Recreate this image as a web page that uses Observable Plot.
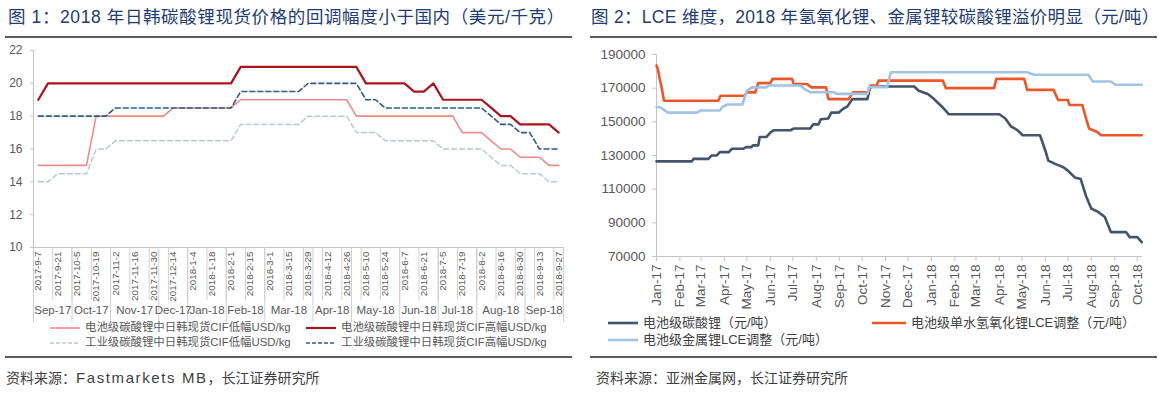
<!DOCTYPE html>
<html><head><meta charset="utf-8">
<script src="https://cdn.jsdelivr.net/npm/d3@7"></script>
<script src="https://cdn.jsdelivr.net/npm/@observablehq/plot@0.6"></script>
<style>
body{margin:0;background:#fff;font-family:"Liberation Sans","Noto Sans CJK SC",sans-serif;}
#root{position:relative;width:1162px;height:394px;overflow:hidden;background:#fff;}
.title{position:absolute;top:7px;font-size:17.5px;line-height:20px;color:#1f3d6e;white-space:nowrap;}
.rule{position:absolute;height:2px;background:#5a5a5a;}
.caption{position:absolute;top:369px;font-size:14px;line-height:18px;color:#404040;white-space:nowrap;}
.chart{position:absolute;}
.item{position:absolute;display:flex;align-items:center;white-space:nowrap;}
</style></head><body><div id="root">
<div class="title" style="left:8px;letter-spacing:0.6px">图&nbsp;1：2018 年日韩碳酸锂现货价格的回调幅度小于国内（美元/千克）</div>
<div class="title" style="left:591px;letter-spacing:0.3px">图&nbsp;2：LCE 维度，2018 年氢氧化锂、金属锂较碳酸锂溢价明显（元/吨）</div>
<div class="rule" style="left:5px;width:567px;top:36px"></div>
<div class="rule" style="left:590px;width:567px;top:36px"></div>
<div class="chart" id="left" style="left:0;top:40px"></div>
<div class="chart" id="right" style="left:580px;top:40px"></div>
<div class="rule" style="left:5px;width:567px;top:356px"></div>
<div class="rule" style="left:590px;width:567px;top:356px"></div>
<div class="caption" style="left:6px">资料来源：<span style="letter-spacing:1.6px;font-size:15px">Fastmarkets MB</span>，长江证券研究所</div>
<div class="caption" style="left:596px">资料来源：亚洲金属网，长江证券研究所</div>
</div>
<script>
// ---------- Figure 1 data (USD/kg), weekly categories ----------
const weeks = ["2017-9-7","2017-9-14","2017-9-21","2017-9-28","2017-10-5","2017-10-12","2017-10-19","2017-10-26","2017-11-2","2017-11-9","2017-11-16","2017-11-23","2017-11-30","2017-12-7","2017-12-14","2017-12-21","2018-1-4","2018-1-11","2018-1-18","2018-1-25","2018-2-1","2018-2-8","2018-2-15","2018-2-22","2018-3-1","2018-3-8","2018-3-15","2018-3-22","2018-3-29","2018-4-5","2018-4-12","2018-4-19","2018-4-26","2018-5-3","2018-5-10","2018-5-17","2018-5-24","2018-5-31","2018-6-7","2018-6-14","2018-6-21","2018-6-28","2018-7-5","2018-7-12","2018-7-19","2018-7-26","2018-8-2","2018-8-9","2018-8-16","2018-8-23","2018-8-30","2018-9-6","2018-9-13","2018-9-20","2018-9-27"];
const batteryLow = [15,15,15,15,15,15,18,18,18,18,18,18,18,18,18.5,18.5,18.5,18.5,18.5,18.5,18.5,19,19,19,19,19,19,19,19,19,19,19,19,18,18,18,18,18,18,18,18,18,18,18,17,17,17,16.5,16,16,15.5,15.5,15.5,15,15];
const batteryHigh = [19,20,20,20,20,20,20,20,20,20,20,20,20,20,20,20,20,20,20,20,20,21,21,21,21,21,21,21,21,21,21,21,21,21,20,20,20,20,20,19.5,19.5,20,19,19,19,19,19,18.5,18,18,17.5,17.5,17.5,17.5,17];
const industrialLow = [14,14,14.5,14.5,14.5,14.5,16,16,16.5,16.5,16.5,16.5,16.5,16.5,16.5,16.5,16.5,16.5,16.5,16.5,16.5,17.5,17.5,17.5,17.5,17.5,17.5,17.5,18,18,18,18,18,17,17,17,16.5,16.5,16.5,16.5,16.5,16.5,16,16,16,16,16,15.5,15,15,14.5,14.5,14.5,14,14];
const industrialHigh = [18,18,18,18,18,18,18,18,18.5,18.5,18.5,18.5,18.5,18.5,18.5,18.5,18.5,18.5,18.5,18.5,18.5,19.5,19.5,19.5,19.5,19.5,19.5,19.5,20,20,20,20,20,20,19,19,18.5,18.5,18.5,18.5,18.5,18.5,18.5,18.5,18.5,18.5,18.5,18,17.5,17.5,17,17,16,16,16];
const leftYTicks = [10,12,14,16,18,20,22];
const leftNames = ["电池级碳酸锂中日韩现货CIF低幅USD/kg","电池级碳酸锂中日韩现货CIF高幅USD/kg","工业级碳酸锂中日韩现货CIF低幅USD/kg","工业级碳酸锂中日韩现货CIF高幅USD/kg"];

// ---------- Figure 2 data (CNY/t) ----------
const carbonateDates = ["2017-01-01","2017-02-17","2017-02-19","2017-03-11","2017-03-15","2017-03-22","2017-03-26","2017-04-07","2017-04-11","2017-04-26","2017-04-30","2017-05-07","2017-05-09","2017-05-16","2017-05-18","2017-05-27","2017-06-02","2017-06-06","2017-06-28","2017-07-02","2017-07-24","2017-07-28","2017-08-04","2017-08-07","2017-08-17","2017-08-21","2017-08-31","2017-09-05","2017-09-11","2017-09-18","2017-10-08","2017-10-11","2017-10-15","2017-12-09","2017-12-15","2017-12-27","2018-01-02","2018-01-09","2018-01-16","2018-01-21","2018-01-24","2018-04-01","2018-04-09","2018-04-16","2018-04-25","2018-05-02","2018-05-25","2018-06-01","2018-06-05","2018-06-14","2018-06-25","2018-07-01","2018-07-10","2018-07-18","2018-07-25","2018-08-01","2018-08-10","2018-08-19","2018-08-27","2018-09-16","2018-09-21","2018-10-01","2018-10-07"];
const carbonateValues = [126500,126500,128000,128000,130000,130000,132000,132000,134000,134000,135000,135000,136000,136000,141000,141000,144000,145000,145000,146000,146000,148500,148500,151500,152000,155500,155500,157500,159000,163500,163500,170000,171000,171000,168500,166500,164500,161500,158500,156000,154500,154500,152000,147500,145000,142000,142000,133000,127000,125000,123000,121000,117000,116000,106000,98500,96500,93500,84500,84500,81500,81500,78500];
const hydroxideDates = ["2017-01-01","2017-01-03","2017-01-05","2017-01-07","2017-01-11","2017-03-24","2017-03-27","2017-04-28","2017-05-01","2017-05-12","2017-05-16","2017-06-01","2017-06-04","2017-06-30","2017-07-02","2017-07-20","2017-07-25","2017-08-14","2017-08-17","2017-09-13","2017-09-17","2017-09-19","2017-10-09","2017-10-12","2017-10-20","2017-10-23","2018-01-16","2018-01-20","2018-03-25","2018-03-28","2018-05-04","2018-05-08","2018-06-12","2018-06-18","2018-07-01","2018-07-03","2018-07-20","2018-07-29","2018-08-09","2018-08-14","2018-10-07"];
const hydroxideValues = [183500,181000,176000,172000,162500,162500,165500,165500,167500,167500,173000,173000,175500,175500,172500,172500,170500,170500,163500,163500,166500,167500,167500,171500,171500,174500,174500,170000,170000,175500,175500,169000,169000,163000,163000,160000,160000,146000,144000,142000,142000];
const metalDates = ["2017-01-01","2017-01-06","2017-01-16","2017-02-24","2017-02-28","2017-03-26","2017-03-29","2017-04-05","2017-04-25","2017-05-01","2017-05-08","2017-05-27","2017-05-30","2017-07-11","2017-07-16","2017-07-24","2017-08-25","2017-08-28","2017-10-08","2017-10-10","2017-11-03","2017-11-08","2018-05-08","2018-05-17","2018-07-28","2018-08-03","2018-08-27","2018-09-02","2018-10-07"];
const metalValues = [158700,158700,155500,155500,156700,156700,158700,160300,160300,168600,170500,170500,171600,171600,169600,167600,167600,166600,166600,170600,170600,179500,179500,178000,178000,174000,174000,172000,172000];
const rightMonthLabels = ["Jan-17","Feb-17","Mar-17","Apr-17","May-17","Jun-17","Jul-17","Aug-17","Sep-17","Oct-17","Nov-17","Dec-17","Jan-18","Feb-18","Mar-18","Apr-18","May-18","Jun-18","Jul-18","Aug-18","Sep-18","Oct-18"];
const rightYTicks = [70000,90000,110000,130000,150000,170000,190000];
const rightNames = ["电池级碳酸锂（元/吨）","电池级单水氢氧化锂LCE调整（元/吨）","电池级金属锂LCE调整（元/吨）"];

const FONT = '"Liberation Sans","Noto Sans CJK SC",sans-serif';
const AXIS = "#c4c4c4", TXT = "#595959";

// ---------- Figure 1 ----------
const n = weeks.length;
const idx = d3.range(n);
const monthName = w => { const [y, m] = w.split("-").map(Number); return d3.utcFormat("%b-%y")(new Date(Date.UTC(y, m - 1, 1))); };
const groups = [];
weeks.forEach((w, i) => {
  const name = monthName(w);
  if (groups.length && groups[groups.length - 1].name === name) groups[groups.length - 1].end = i;
  else groups.push({name, start: i, end: i});
});
groups.forEach(g => g.mid = (g.start + g.end) / 2);
const monthBounds = groups.map(g => g.start - 0.5).concat([n - 0.5]);
const pairBounds = idx.filter(i => i % 2 === 0).map(i => i - 0.5).concat([n - 0.5]);
const labelIdx = idx.filter(i => i % 2 === 0);
const leftStyles = [
  {values: batteryLow, stroke: "#ee8b8b", width: 1.6, dash: null},
  {values: batteryHigh, stroke: "#a8151c", width: 2.2, dash: null},
  {values: industrialLow, stroke: "#b9c8dc", width: 1.5, dash: "5,3"},
  {values: industrialHigh, stroke: "#2e5b8c", width: 1.6, dash: "5,3"}
];
const left = Plot.plot({
  width: 580, height: 285, marginLeft: 33, marginRight: 17, marginTop: 10, marginBottom: 78,
  style: {fontFamily: FONT, color: TXT, background: "transparent"},
  x: {type: "linear", domain: [-0.5, n - 0.5]},
  y: {domain: [10, 22]},
  marks: [
    Plot.axisY(leftYTicks, {tickSize: 3, tickPadding: 8, fontSize: 12, stroke: AXIS, fill: TXT, label: null}),
    Plot.ruleX([-0.5], {stroke: AXIS}),
    Plot.ruleY([10], {stroke: AXIS}),
    Plot.axisX(pairBounds, {tickSize: 53, stroke: "#d0d0d0", fill: "none", tickFormat: () => "", label: null}),
    Plot.axisX(monthBounds, {tickSize: 75, stroke: "#d0d0d0", fill: "none", tickFormat: () => "", label: null}),
    Plot.axisX(labelIdx, {tickSize: 0, tickPadding: 4, tickRotate: -90, tickFormat: i => weeks[i], fontSize: 9.8, fill: TXT, label: null}),
    Plot.text(groups, {x: "mid", text: "name", frameAnchor: "bottom", dy: 66, fontSize: 11.5, fill: TXT}),
    ...leftStyles.map(s => Plot.line(idx, {x: i => i, y: i => s.values[i], stroke: s.stroke, strokeWidth: s.width, strokeDasharray: s.dash}))
  ]
});
document.getElementById("left").append(left);

// ---------- Figure 2 ----------
const parseDay = d3.utcParse("%Y-%m-%d");
const parseMonth = d3.utcParse("%b-%y");
const monthTicks = rightMonthLabels.map(parseMonth);
const rows = (dates, values) => dates.map((d, i) => ({date: parseDay(d), value: values[i]}));
const rightStyles = [
  {rows: rows(carbonateDates, carbonateValues), stroke: "#44546a"},
  {rows: rows(hydroxideDates, hydroxideValues), stroke: "#e9572a"},
  {rows: rows(metalDates, metalValues), stroke: "#a3c3e2"}
];
const right = Plot.plot({
  width: 580, height: 280, marginLeft: 76, marginRight: 18, marginTop: 14, marginBottom: 64,
  style: {fontFamily: FONT, color: TXT, background: "transparent"},
  x: {type: "utc", domain: [parseDay("2017-01-01"), parseDay("2018-10-08")]},
  y: {domain: [70000, 190000]},
  marks: [
    Plot.axisY(rightYTicks, {tickSize: 4, tickPadding: 7, fontSize: 13.5, stroke: AXIS, fill: TXT, tickFormat: d3.format("d"), label: null}),
    Plot.ruleX([parseDay("2017-01-01")], {stroke: AXIS}),
    Plot.ruleY([70000], {stroke: AXIS}),
    Plot.axisX(monthTicks, {tickSize: 5, tickPadding: 3, tickRotate: -90, tickFormat: (d, i) => rightMonthLabels[i], fontSize: 13.5, stroke: AXIS, fill: TXT, label: null}),
    ...rightStyles.map(s => Plot.line(s.rows, {x: "date", y: "value", stroke: s.stroke, strokeWidth: 2.6}))
  ]
});
document.getElementById("right").append(right);

// ---------- Legends ----------
const root = document.getElementById("root");
function addItem(x, y, w, stroke, width, dash, text, fs, color) {
  const div = document.createElement("div");
  div.className = "item";
  div.style.left = x + "px"; div.style.top = (y - fs * 0.7) + "px";
  div.style.fontSize = fs + "px"; div.style.lineHeight = (fs * 1.4) + "px"; div.style.color = color;
  div.innerHTML = `<svg width="${w}" height="6" style="margin-right:5px"><line x1="0" y1="3" x2="${w}" y2="3" stroke="${stroke}" stroke-width="${width}" ${dash ? `stroke-dasharray="${dash}"` : ""}/></svg><span>${text}</span>`;
  root.append(div);
}
addItem(50, 328, 30, leftStyles[0].stroke, 1.6, null, leftNames[0], 11.4, TXT);
addItem(306, 328, 30, leftStyles[1].stroke, 2.2, null, leftNames[1], 11.4, TXT);
addItem(50, 343, 30, leftStyles[2].stroke, 1.5, "4,2", leftNames[2], 11.4, TXT);
addItem(306, 343, 30, leftStyles[3].stroke, 1.6, "4,2", leftNames[3], 11.4, TXT);
addItem(608, 323, 30, rightStyles[0].stroke, 2.6, null, rightNames[0], 13, "#404040");
addItem(872, 323, 34, rightStyles[1].stroke, 2.6, null, rightNames[1], 13, "#404040");
addItem(608, 340, 30, rightStyles[2].stroke, 2.6, null, rightNames[2], 13, "#404040");
</script></body></html>
